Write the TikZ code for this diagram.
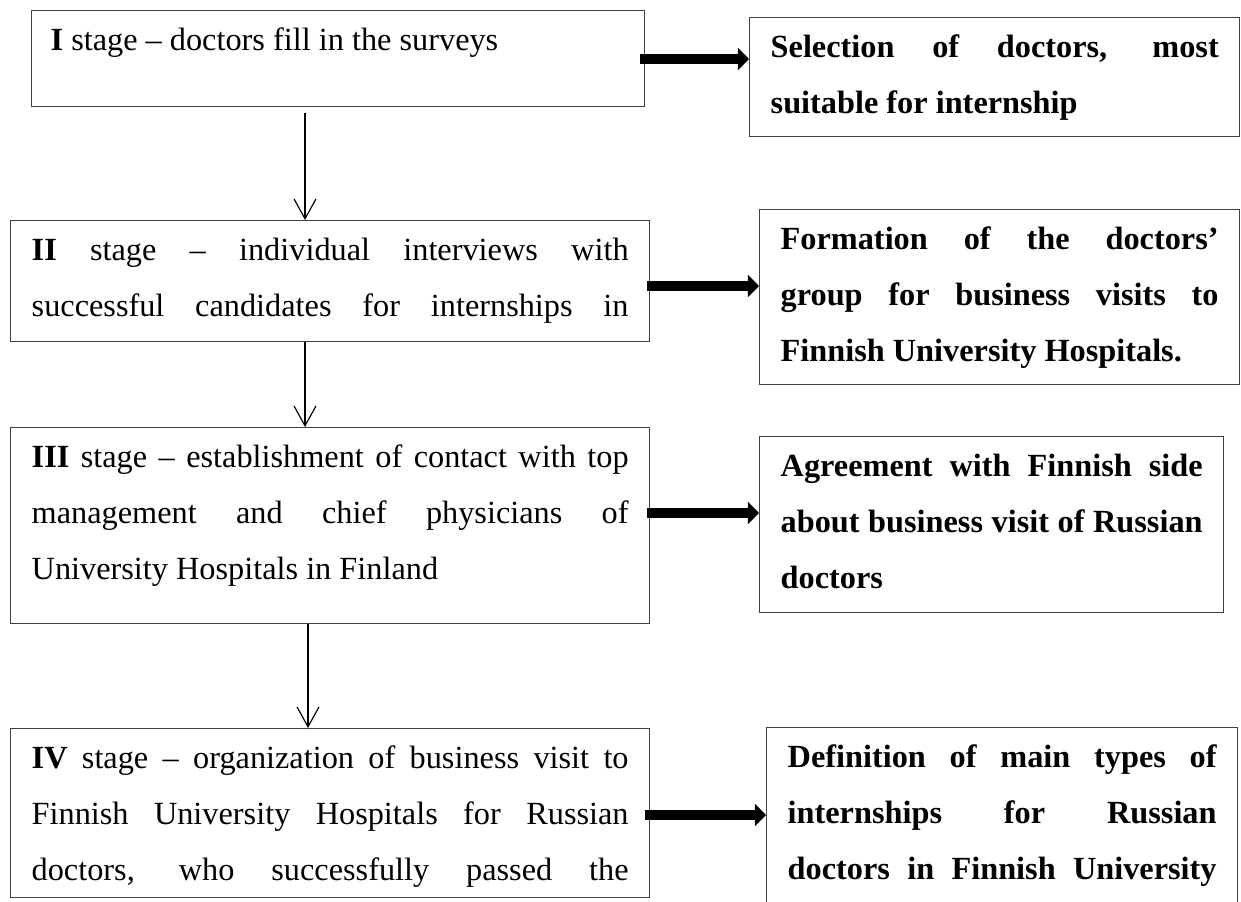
\documentclass[tikz,border=0pt]{standalone}
\usepackage{fontspec}
\setmainfont{Liberation Serif}
\usetikzlibrary{arrows.meta}

\tikzset{
  box/.style={draw=black!75, line width=0.6pt, anchor=north west, align=justify,
    inner xsep=9.1pt, inner ysep=7.37pt, text height=9.97pt,
    font=\fontsize{14}{24.15}\selectfont,
    execute at begin node={\tolerance=9999 \hyphenpenalty=10000 }},
  stagebox/.style={box},
  goalbox/.style={box, font=\fontsize{14}{24.15}\selectfont\bfseries},
  down/.style={line width=0.5pt, -{Straight Barb[length=8.6pt,width=9.5pt]}},
  fat/.style={line width=4.3pt, -{Triangle[length=4.8pt,width=9.5pt]}},
}

\begin{document}
\begin{tikzpicture}[x=0.4334pt, y=-0.4334pt]
    \useasboundingbox (0,0) rectangle (1241,901);
    \clip (0,0) rectangle (1241,901);

    \coordinate (v1) at (305,113);
    \coordinate (v3) at (308,0);
    \coordinate (h1) at (640,59);
    \coordinate (h2) at (647,286);
    \coordinate (h3) at (647,513);
    \coordinate (h4) at (645,815);

    \node [stagebox, inner xsep=8.2pt, text width=249.3pt, text depth=16.9pt] (st1) at (31,10)
      {\textbf{I} stage – doctors fill in the surveys};
    \node [stagebox, text width=258.7pt, text depth=27.7pt] (st2) at (10,220)
      {\parfillskip=0pt \textbf{II} stage – individual interviews with\linebreak
       successful candidates for internships in\par};
    \node [stagebox, text width=258.7pt, text depth=60.2pt] (st3) at (10,427)
      {\textbf{III} stage – establishment of contact with top\linebreak
       management and chief physicians of\linebreak
       University Hospitals in Finland};
    \node [stagebox, text width=258.7pt, text depth=48.5pt] (st4) at (10,728)
      {\parfillskip=0pt \textbf{IV} stage – organization of business visit to\linebreak
       Finnish University Hospitals for Russian\linebreak
       doctors, who successfully passed the\par};

    \node [goalbox, text width=194.2pt, text depth=26.9pt] (re1) at (749,17)
      {Selection of doctors, most\linebreak suitable for internship};
    \node [goalbox, text width=189.8pt, text depth=51.1pt] (re2) at (759,209)
      {Formation of the doctors’\linebreak group for business visits to\linebreak
       Finnish University Hospitals.};
    \node [goalbox, text width=182.9pt, text depth=51.6pt] (re3) at (759,436)
      {Agreement with Finnish side\linebreak about business visit of Russian\linebreak
       doctors};
    \node [goalbox, text width=185.9pt, text depth=83.6pt] (re4) at (766,727)
      {\parfillskip=0pt Definition of main types of\linebreak
       internships for Russian\linebreak
       doctors in Finnish University\par};

    % stages
    \draw [down] (v1) -- (v1 |- st2.north);
    \draw [down] (st2.south -| v1) -- (st3.north -| v1);
    \draw [down] (st3.south -| v3) -- (st4.north -| v3);

    % results
    \draw [fat] (h1) -- (h1 -| re1.west);
    \draw [fat] (h2) -- (h2 -| re2.west);
    \draw [fat] (h3) -- (h3 -| re3.west);
    \draw [fat] (h4) -- (h4 -| re4.west);
\end{tikzpicture}
\end{document}
